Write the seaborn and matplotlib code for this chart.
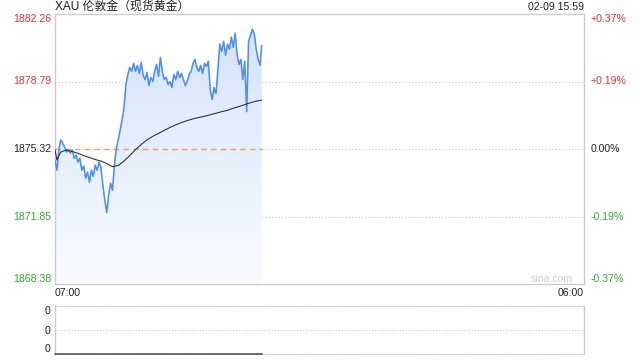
import numpy as np
import pandas as pd
import matplotlib
matplotlib.use("Agg")
import matplotlib.pyplot as plt
import seaborn as sns
from matplotlib.patches import PathPatch
from matplotlib.path import Path
from matplotlib.colors import LinearSegmentedColormap

# ---------------- data ----------------
title = "XAU 伦敦金（现货黄金）"
timestamp = "02-09 15:59"
x_labels = ["07:00", "06:00"]
session_minutes = 1380  # 07:00 -> 06:00 next day

price_minutes = list(np.arange(0, 540, 5)) + [539]
price = [
    1874.75, 1874.23, 1875.27, 1875.79, 1875.63, 1875.42, 1875.16, 1875.27, 1875.11, 1875.27,
    1874.85, 1875.01, 1874.65, 1874.85, 1874.23, 1874.44, 1873.82, 1874.13, 1873.61, 1874.23,
    1873.92, 1874.49, 1874.23, 1874.65, 1874.34, 1873.46, 1872.68, 1872.06, 1872.94, 1873.56,
    1873.20, 1874.49, 1875.37, 1875.79, 1876.30, 1876.82, 1877.44, 1878.64, 1879.15, 1879.52,
    1879.31, 1879.72, 1879.31, 1879.62, 1879.20, 1879.77, 1879.10, 1878.89, 1879.26, 1878.58,
    1879.00, 1878.79, 1879.31, 1879.67, 1879.05, 1880.03, 1879.31, 1878.89, 1879.00, 1878.64,
    1878.79, 1878.48, 1879.15, 1878.89, 1879.31, 1879.00, 1879.20, 1878.89, 1878.58, 1878.79,
    1879.15, 1879.31, 1879.72, 1879.93, 1879.52, 1879.31, 1879.62, 1879.20, 1879.72, 1879.57,
    1879.83, 1878.38, 1877.86, 1878.48, 1878.17, 1879.41, 1880.71, 1880.34, 1880.86, 1880.14,
    1880.71, 1880.45, 1881.07, 1880.55, 1881.28, 1880.19, 1879.67, 1879.93, 1878.89, 1879.83,
    1877.24, 1880.86, 1881.17, 1881.48, 1881.22, 1880.45, 1879.93, 1879.62, 1880.65,
]

avg_minutes = [0, 5, 15, 30, 45, 60, 75, 90, 105, 120, 135, 150, 165, 180, 195, 210, 225,
               240, 255, 270, 285, 300, 315, 330, 345, 360, 375, 390, 405, 420, 435, 450,
               465, 480, 495, 510, 525, 539]
avg_price = [1875.29, 1874.75, 1875.16, 1875.27, 1875.19, 1875.10, 1874.98, 1874.88, 1874.78,
             1874.70, 1874.57, 1874.41, 1874.47, 1874.70, 1874.98, 1875.29, 1875.55, 1875.79,
             1875.97, 1876.12, 1876.28, 1876.43, 1876.56, 1876.68, 1876.78, 1876.87, 1876.94,
             1877.00, 1877.08, 1877.16, 1877.24, 1877.31, 1877.42, 1877.50, 1877.60, 1877.70,
             1877.78, 1877.83]

vol_minutes = [0, 539]
volume = [0, 0]

y_ticks = [1868.38, 1871.85, 1875.32, 1878.79, 1882.26]
y_labels = ["1868.38", "1871.85", "1875.32", "1878.79", "1882.26"]
pct_labels = ["-0.37%", "-0.19%", "0.00%", "+0.19%", "+0.37%"]
prev_close = 1875.32
vol_labels = ["0", "0", "0"]

RED = "#ee3333"
GREEN = "#33aa33"
BLACK = "#222222"
tick_colors = [GREEN, GREEN, BLACK, RED, RED]

# ---------------- style ----------------
sns.set_theme(style="white")
plt.rcParams['font.family'] = ['Liberation Sans', 'Noto Sans CJK SC', 'DejaVu Sans']
FS = 7.6

fig = plt.figure(figsize=(6.4, 3.6), dpi=100)
ax = fig.add_axes([55 / 640, 76 / 360, 529 / 640, 270 / 360])
axv = fig.add_axes([55 / 640, 6 / 360, 529 / 640, 48 / 360])

ymin, ymax = y_ticks[0], y_ticks[-1]

df = pd.DataFrame({"minute": price_minutes, "price": price})
dfa = pd.DataFrame({"minute": avg_minutes, "avg": avg_price})
dfv = pd.DataFrame({"minute": vol_minutes, "vol": volume})

# gradient fill under price
cmap = LinearSegmentedColormap.from_list("g", ["#f9fbff", "#d3e2fa"])
grad = np.linspace(0, 1, 256).reshape(-1, 1)
img = ax.imshow(grad, extent=[0, session_minutes, ymin, ymax], origin="lower",
                aspect="auto", cmap=cmap, zorder=1)
verts = [(price_minutes[0], ymin)] + list(zip(price_minutes, price)) + [(price_minutes[-1], ymin), (price_minutes[0], ymin)]
patch = PathPatch(Path(verts), facecolor="none", edgecolor="none", transform=ax.transData)
ax.add_patch(patch)
img.set_clip_path(patch)

# grid lines
for yv in [y_ticks[1], y_ticks[2], y_ticks[3]]:
    ax.axhline(yv, color="#c8c8c8", ls=(0, (1, 2)), lw=0.8, zorder=0.5)
ax.hlines(prev_close, 0, price_minutes[-1], color="#f39c62", ls=(0, (4, 3)), lw=1.0, zorder=2)

sns.lineplot(data=df, x="minute", y="price", ax=ax, color="#4f8ef2", lw=1.15, zorder=3)
sns.lineplot(data=dfa, x="minute", y="avg", ax=ax, color="#333333", lw=0.8, zorder=4)

ax.set_xlim(0, session_minutes)
ax.set_ylim(ymin, ymax)
ax.set_xlabel("")
ax.set_ylabel("")

ax.set_yticks(y_ticks, y_labels)
ax.tick_params(axis="y", length=0, pad=2.5, labelsize=FS)
for i, tl in enumerate(ax.get_yticklabels()):
    tl.set_color(tick_colors[i])
    tl.set_va("bottom" if i == 0 else ("top" if i == len(y_ticks) - 1 else "center"))

ax.set_xticks([0, session_minutes], x_labels)
ax.tick_params(axis="x", length=0, pad=3, labelsize=FS, labelcolor=BLACK)
xtl = ax.get_xticklabels()
xtl[0].set_ha("left")
xtl[1].set_ha("right")

for s in ax.spines.values():
    s.set_color("#cccccc")
    s.set_linewidth(1)

axr = ax.twinx()
axr.set_ylim(ymin, ymax)
axr.set_yticks(y_ticks, pct_labels)
axr.tick_params(axis="y", length=0, pad=4.5, labelsize=FS)
for i, tl in enumerate(axr.get_yticklabels()):
    tl.set_color(tick_colors[i])
    tl.set_va("bottom" if i == 0 else ("top" if i == len(y_ticks) - 1 else "center"))
for s in axr.spines.values():
    s.set_visible(False)

ax.text(0.979, 0.02, "sina.com", transform=ax.transAxes, ha="right", va="center",
        fontsize=FS, color="#cfcfcf")

# volume panel
sns.lineplot(data=dfv, x="minute", y="vol", ax=axv, color="#555555", lw=1.2, zorder=3, clip_on=False)
axv.set_xlim(0, session_minutes)
axv.set_ylim(0, 1)
axv.set_xlabel("")
axv.set_ylabel("")
axv.set_xticks([])
axv.axhline(0.5, color="#c8c8c8", ls=(0, (1, 1.5)), lw=0.8)
axv.set_yticks([0, 0.5, 1], vol_labels)
axv.tick_params(axis="y", length=0, pad=3, labelsize=FS, labelcolor=BLACK)
vtl = axv.get_yticklabels()
vtl[0].set_va("bottom")
vtl[2].set_va("top")
for k in ["left", "right"]:
    axv.spines[k].set_color("#cccccc")
    axv.spines[k].set_linewidth(1)
for k in ["top", "bottom"]:
    axv.spines[k].set_color("#c8c8c8")
    axv.spines[k].set_linestyle((0, (1, 1.5)))
    axv.spines[k].set_linewidth(0.8)

fig.text(55 / 640, 1 - 7 / 360, title, ha="left", va="center", fontsize=8.6, color=BLACK)
fig.text(584 / 640, 1 - 7 / 360, timestamp, ha="right", va="center", fontsize=FS, color=BLACK)

fig.savefig("out.png", dpi=100)
